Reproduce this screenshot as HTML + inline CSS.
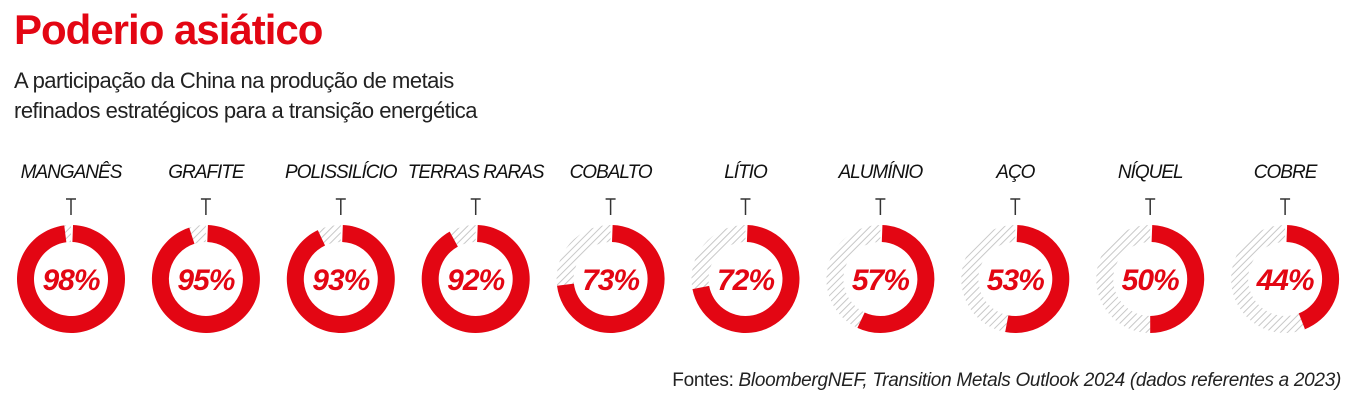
<!DOCTYPE html>
<html><head><meta charset="utf-8"><style>
body{margin:0;width:1355px;height:400px;background:#fff;overflow:hidden;font-family:"Liberation Sans",sans-serif}
#t{position:absolute;left:14px;top:6px;font-size:42px;font-weight:bold;color:#e30613;letter-spacing:-1px}
#s{position:absolute;left:14px;top:66px;font-size:22px;line-height:30px;color:#222;letter-spacing:-0.5px}
#f{position:absolute;right:14px;top:370px;font-size:19px;color:#222;letter-spacing:-0.3px}
svg{position:absolute;left:0;top:0}
</style></head><body>
<div id="t">Poderio asiático</div>
<div id="s">A participação da China na produção de metais<br>refinados estratégicos para a transição energética</div>
<svg id="c" width="1355" height="400">
<defs><pattern id="h" width="5" height="5" patternUnits="userSpaceOnUse" patternTransform="rotate(45)"><rect width="5" height="5" fill="#fff"/><line x1="0" y1="0" x2="0" y2="5" stroke="#c8c8c8" stroke-width="2"/></pattern></defs>
</svg>
<div id="f">Fontes: <i>BloombergNEF, Transition Metals Outlook 2024 (dados referentes a 2023)</i></div>
<script>
const categories=["MANGANÊS","GRAFITE","POLISSILÍCIO","TERRAS RARAS","COBALTO","LÍTIO","ALUMÍNIO","AÇO","NÍQUEL","COBRE"];
const shares=[98,95,93,92,73,72,57,53,50,44];
const svg=document.getElementById('c');const NS='http://www.w3.org/2000/svg';
const x0=71,dx=134.9,cy=279,R=54,r=37;
function mk(t,a){const e=document.createElementNS(NS,t);for(const k in a)e.setAttribute(k,a[k]);svg.appendChild(e);return e;}
function pt(rad,f){const a=f*2*Math.PI;return [rad*Math.sin(a),-rad*Math.cos(a)];}
function arc(cx,f0,f1){const [a,b]=pt(R,f0),[c,d]=pt(R,f1),[e,g]=pt(r,f1),[h,i]=pt(r,f0);const l=(f1-f0)>0.5?1:0;
return `M${cx+a},${cy+b}A${R},${R} 0 ${l} 1 ${cx+c},${cy+d}L${cx+e},${cy+g}A${r},${r} 0 ${l} 0 ${cx+h},${cy+i}Z`;}
categories.forEach((c,i)=>{const cx=x0+i*dx,v=shares[i]/100;
const lb=mk('text',{x:cx,y:178,'text-anchor':'middle','font-size':19,'font-style':'italic',fill:'#111','font-family':'Liberation Sans, sans-serif','letter-spacing':'-1'});lb.textContent=c;


const tk=mk('path',{d:`M${cx-5},${199}H${cx+5}M${cx},199V215`,stroke:'#333','stroke-width':1.5,fill:'none'});


const rest=mk('path',{d:v<1?arc(cx,v,0.9999):'',fill:'url(#h)'});


const s=mk('path',{d:arc(cx,0.006,Math.min(v,0.9999)),fill:'#e30613'});


const vt=mk('text',{x:cx,y:cy+11,'text-anchor':'middle','font-size':30,'font-weight':'bold','font-style':'italic',fill:'#e30613','font-family':'Liberation Sans, sans-serif','letter-spacing':'-1'});vt.textContent=shares[i]+'%';


});
</script>
</body></html>
